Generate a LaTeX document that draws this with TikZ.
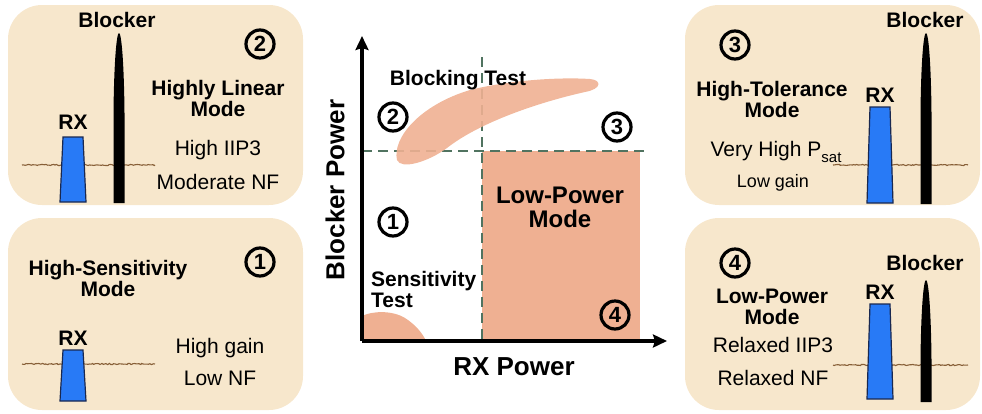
\documentclass[tikz,border=0pt]{standalone}
\usepackage{fontspec}
\setmainfont{Liberation Sans}
\usetikzlibrary{positioning,arrows.meta,decorations.pathmorphing}

\definecolor{panelbg}{RGB}{247,231,204}
\definecolor{salmon}{RGB}{239,176,146}
\definecolor{rxblue}{RGB}{40,122,246}
\definecolor{rxedge}{RGB}{25,40,80}
\definecolor{noise}{RGB}{135,95,55}
\definecolor{dashgreen}{RGB}{80,115,96}

% blocker spindle: x, top y, bottom y
\newcommand{\drawblocker}[3]{\fill (#1-5.5,#3) -- (#1-5.5,#2+80) .. controls (#1-5,#2+30) and (#1-2.5,#2) .. (#1,#2) .. controls (#1+2.5,#2) and (#1+5,#2+30) .. (#1+5.5,#2+80) -- (#1+5.5,#3) -- cycle;}
% rx band: centre x, top y, bottom y
\newcommand{\drawrx}[3]{\draw[rxbar] (#1-10,#2) -- (#1+10,#2) -- (#1+13,#3) -- (#1-13,#3) -- cycle;}

\begin{document}
\begin{tikzpicture}[x=1pt,y=-1pt]
    \tikzstyle{every node}=[inner sep=0]
    \tikzstyle{panel}=[fill=panelbg,rounded corners=34]
    \tikzstyle{num}=[circle,draw,line width=3.2,minimum size=28,font=\bfseries\fontsize{22}{22}\selectfont]
    \tikzstyle{bold}=[font=\bfseries\fontsize{21}{21}\selectfont,align=center]
    \tikzstyle{plain}=[font=\fontsize{21}{21}\selectfont,align=center]
    \tikzstyle{big}=[font=\bfseries\fontsize{26}{26}\selectfont]
    \tikzstyle{rxbar}=[fill=rxblue,draw=rxedge,line width=1.2]
    \tikzstyle{noiseline}=[draw=noise,line width=1.1,decorate,decoration={random steps,segment length=1.5,amplitude=0.6}]
    \tikzstyle{grid}=[dashgreen,line width=2.8,dash pattern=on 10 off 6]
    \tikzstyle{axis}=[line width=3.5,-{Stealth[length=14,width=13,inset=2]}]
    \pgfmathsetseed{7}
    \useasboundingbox (0,0) rectangle (982,413);
    {
        % panels
        \fill[panel] (8,5) rectangle (303,205);
        \fill[panel] (8,218) rectangle (303,410);
        \fill[panel] (685,5) rectangle (980,205);
        \fill[panel] (685,218) rectangle (980,410);

        % panel 2: highly linear
        \draw[noiseline] (22,165) -- (155,165);
        \drawrx{73}{137}{202}
        \drawblocker{119}{33}{203}
        \node[bold] (blk2) at (117,20) {Blocker};
        \node[bold] (rx2) at (73,122) {RX};
        \node[num] (n2) at (260,44) {2};
        \node[bold] (mode2) at (218,98) {Highly Linear\\Mode};
        \node[plain] (iip2) at (218,150) {High IIP3};
        \node[plain] (nf2) at (218,182) {Moderate NF};

        % panel 1: high sensitivity
        \draw[noiseline] (22,364) -- (155,364);
        \drawrx{73}{350}{401}
        \node[bold] (rx1) at (73,338) {RX};
        \node[num] (n1) at (260,262) {1};
        \node[bold] (mode1) at (108,278) {High-Sensitivity\\Mode};
        \node[plain] (gain1) at (220,348) {High gain};
        \node[plain] (nf1) at (220,378) {Low NF};

        % panel 3: high tolerance
        \draw[noiseline] (833,165) -- (968,165);
        \drawrx{880}{107}{203}
        \drawblocker{926}{33}{204}
        \node[bold] (blk3) at (925,20) {Blocker};
        \node[bold] (rx3) at (880,95) {RX};
        \node[num] (n3) at (735,45) {3};
        \node[bold] (mode3) at (772,99) {High-Tolerance\\Mode};
        \node[plain] (psat3) at (776,152) {Very High P\raisebox{-6pt}{\fontsize{15}{15}\selectfont sat}};
        \node[font=\fontsize{18}{18}\selectfont] (gain3) at (773,183) {Low gain};

        % panel 4: low power
        \draw[noiseline] (833,365) -- (968,365);
        \drawrx{880}{304}{399}
        \drawblocker{926}{280}{402}
        \node[bold] (blk4) at (925,263) {Blocker};
        \node[bold] (rx4) at (880,292) {RX};
        \node[num] (n4) at (735,263) {4};
        \node[bold] (mode4) at (772,307) {Low-Power\\Mode};
        \node[plain] (iip4) at (773,345) {Relaxed IIP3};
        \node[plain] (nf4) at (773,378) {Relaxed NF};

        % chart
        \coordinate (origin) at (362,341);
        \coordinate (ytop) at (362,36);
        \coordinate (xend) at (667,341);
        \coordinate (vtop) at (482,57);
        \coordinate (vbot) at (482,341);
        \coordinate (hleft) at (362,151);
        \coordinate (hright) at (648,151);

        \fill[salmon] (482,151) rectangle (640,341);
        \draw[grid] (vtop) -- (vbot);
        \draw[grid] (hleft) -- (hright);
        \fill[salmon,fill opacity=0.9] (397,160) .. controls (392,138) and (420,105) .. (470,90)
            .. controls (510,80) and (560,77) .. (590,79) .. controls (602,80) and (602,89) .. (585,92)
            .. controls (540,102) and (480,122) .. (447,148) .. controls (428,162) and (401,170) .. (397,160) -- cycle;
        \fill[salmon] (362,341) -- (362,316) .. controls (372,311) and (392,310) .. (405,318)
            .. controls (416,325) and (423,334) .. (426,341) -- cycle;

        \draw[axis] (origin.center) -- (ytop);
        \draw[axis] (origin.center) -- (xend);

        \node[bold] (blocking) at (458,80) {Blocking Test};
        \node[num] (c2) at (393,117) {2};
        \node[num] (c3) at (617,127) {3};
        \node[num] (c1) at (393,222) {1};
        \node[num] (c4) at (615,315) {4};
        \node[font=\bfseries\fontsize{24}{24}\selectfont,align=center] (lowpower) at (560,207) {Low-Power\\Mode};
        \node[bold,align=left,anchor=west] (sens) at (371,289) {Sensitivity\\Test};
        \node[big,rotate=90] (ylab) at (335,190) {Blocker Power};
        \node[big] (xlab) at (514,367) {RX Power};
    }
\end{tikzpicture}
\end{document}
